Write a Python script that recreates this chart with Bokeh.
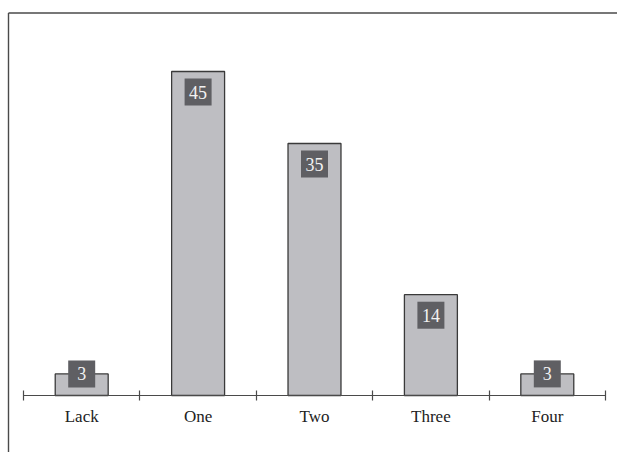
from bokeh.plotting import figure
from bokeh.models import Range1d, LinearAxis, FixedTicker, ColumnDataSource
from bokeh.core.properties import value
from bokeh.embed import file_html
from bokeh.resources import INLINE

# ---- data ----
categories = ["Lack", "One", "Two", "Three", "Four"]
counts = [3, 45, 35, 14, 3]

# ---- layout constants ----
W, H = 617, 452
axis_x0_px = 23.0          # screen x of category boundary 0
cat_px = 116.4             # pixels per category
axis_y_px = 395.0          # screen y of value 0
unit_px = 7.2              # pixels per unit value

x_start = -axis_x0_px / cat_px
x_end = (W - axis_x0_px) / cat_px
y_end = axis_y_px / unit_px
y_start = -(H - axis_y_px) / unit_px

p = figure(width=W, height=H, output_backend="svg", toolbar_location=None,
           x_axis_type=None, y_axis_type=None,
           x_range=Range1d(x_start, x_end), y_range=Range1d(y_start, y_end),
           min_border=0, min_border_left=0, min_border_right=0,
           min_border_top=0, min_border_bottom=0)
p.outline_line_color = None
p.background_fill_color = "white"
p.border_fill_color = "white"

centers = [i + 0.5 for i in range(len(categories))]

# frame lines (left & top border of the figure box)
bx = (8 - axis_x0_px) / cat_px
by = (axis_y_px - 12.5) / unit_px
p.segment(x0=[bx, bx], y0=[y_start - 5, by], x1=[bx, x_end + 5], y1=[by, by],
          line_color="#4a4a4a", line_width=1.4)

src = ColumnDataSource(dict(x=centers, top=counts,
                            ly=[c - 2.85 if c >= 10 else c for c in counts],
                            lbl=[str(c) for c in counts]))

p.vbar(x="x", top="top", bottom=0, width=0.455, source=src,
       fill_color="#bebec2", line_color="#3a3a3a", line_width=1.3)

p.scatter(x="x", y="ly", marker="square", size=27, source=src,
          fill_color="#5f5f63", line_color=None)
p.text(x="x", y="ly", text="lbl", source=src, text_align="center",
       text_baseline="middle", text_font=value("Liberation Serif"),
       text_font_size="18px", text_color="#f2f2f2")

xaxis = LinearAxis(fixed_location=0)
xaxis.ticker = FixedTicker(ticks=centers, minor_ticks=list(range(len(categories) + 1)))
xaxis.major_label_overrides = {c: lab for c, lab in zip(centers, categories)}
xaxis.bounds = (0, len(categories))
xaxis.axis_line_color = "#4a4a4a"
xaxis.axis_line_width = 1.2
xaxis.major_tick_line_color = None
xaxis.major_tick_in = 0
xaxis.major_tick_out = 0
xaxis.minor_tick_line_color = "#4a4a4a"
xaxis.minor_tick_line_width = 1.2
xaxis.minor_tick_in = 5
xaxis.minor_tick_out = 5
xaxis.major_label_standoff = 6
xaxis.major_label_text_font = "Liberation Serif"
xaxis.major_label_text_font_size = "17px"
xaxis.major_label_text_color = "#222222"
p.add_layout(xaxis, "below")

open("out.html", "w").write(file_html(p, INLINE))
